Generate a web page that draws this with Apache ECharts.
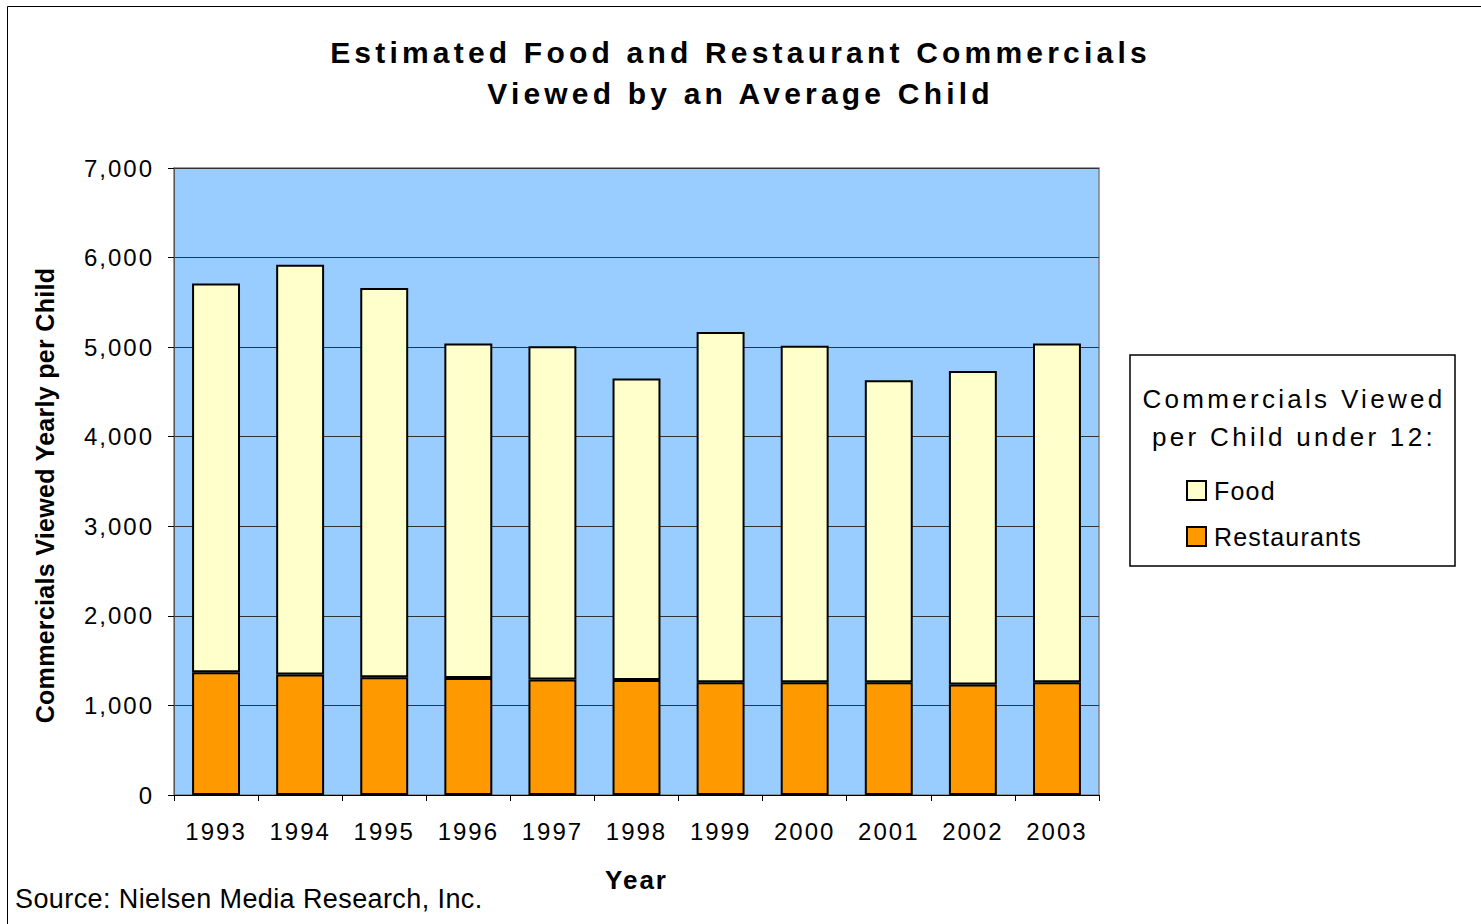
<!DOCTYPE html>
<html>
<head>
<meta charset="utf-8">
<script src="https://cdn.jsdelivr.net/npm/echarts@6/dist/echarts.min.js"></script>
<style>
  html, body { margin: 0; padding: 0; background: #fff; }
  #main { width: 1481px; height: 924px; }
  /* the original chart has loose letter spacing, svg text can take it */
  #main text[style*="ftitle"], #main text[font-family*="ftitle"] { letter-spacing: 4.2px; }
  #main text[style*="ftick"], #main text[font-family*="ftick"] { letter-spacing: 2px; }
  #main text[style*="fyname"], #main text[font-family*="fyname"] { letter-spacing: 0.3px; }
  #main text[style*="fxname"], #main text[font-family*="fxname"] { letter-spacing: 2px; }
  #main text[style*="fhead"], #main text[font-family*="fhead"] { letter-spacing: 3.3px; }
  #main text[style*="fitem"], #main text[font-family*="fitem"] { letter-spacing: 1.2px; }
  #main text[style*="fsrc"], #main text[font-family*="fsrc"] { letter-spacing: 0.4px; }
</style>
</head>
<body>
<div id="main"></div>
<script>
  // values
  let years = ['1993', '1994', '1995', '1996', '1997', '1998', '1999', '2000', '2001', '2002', '2003'];
  let restaurants = [1370, 1345, 1315, 1305, 1290, 1285, 1260, 1260, 1260, 1235, 1260];
  let food = [4340, 4575, 4345, 3735, 3720, 3365, 3910, 3755, 3370, 3500, 3780];
  let yTicks = [0, 1000, 2000, 3000, 4000, 5000, 6000, 7000];

  // second family name is only a tag for the css above
  function ff(tag) {
    return 'Liberation Sans, ' + tag + ', Arial, sans-serif';
  }

  let myChart = echarts.init(document.getElementById('main'), null, { renderer: 'svg' });

  let option = {
    animation: false,
    backgroundColor: '#fff',
    title: {
      text: 'Estimated Food and Restaurant Commercials\nViewed by an Average Child',
      left: 'center',
      top: 27,
      textStyle: {
        fontFamily: ff('ftitle'),
        fontSize: 30,
        fontWeight: 'bold',
        color: '#000',
        lineHeight: 41
      }
    },
    grid: {
      left: 174,
      right: 382,
      top: 168,
      bottom: 129,
      show: true,
      backgroundColor: '#99ccff',
      borderColor: '#808080',
      borderWidth: 1.5
    },
    legend: {
      data: ['Food', 'Restaurants'],
      orient: 'vertical',
      left: 1186,
      top: 478,
      padding: 0,
      itemWidth: 19,
      itemHeight: 19,
      itemGap: 21,
      icon: 'rect',
      textStyle: { fontFamily: ff('fitem'), fontSize: 25, color: '#000', padding: [0, 0, 0, 3] }
    },
    xAxis: {
      type: 'category',
      data: years,
      name: 'Year',
      nameLocation: 'middle',
      nameGap: 72,
      nameTextStyle: { fontFamily: ff('fxname'), fontSize: 26, fontWeight: 'bold', color: '#000' },
      axisLine: { lineStyle: { color: '#000', width: 1 } },
      axisTick: { show: true, length: 6, lineStyle: { color: '#000' } },
      axisLabel: { fontFamily: ff('ftick'), fontSize: 24, color: '#000', margin: 24 }
    },
    yAxis: {
      type: 'value',
      min: yTicks[0],
      max: yTicks[yTicks.length - 1],
      interval: 1000,
      name: 'Commercials Viewed Yearly per Child',
      nameLocation: 'middle',
      nameGap: 117,
      nameTextStyle: {
        fontFamily: ff('fyname'),
        fontSize: 25,
        fontWeight: 'bold',
        color: '#000',
        padding: [0, 28, 0, 0]
      },
      axisLine: { show: true, lineStyle: { color: '#555', width: 1 } },
      axisTick: { show: true, length: 6, lineStyle: { color: '#000' } },
      axisLabel: {
        fontFamily: ff('ftick'),
        fontSize: 24,
        color: '#000',
        margin: 20,
        formatter: v => v.toLocaleString('en-US')
      },
      splitLine: { lineStyle: { color: '#333', width: 1 } }
    },
    series: [
      {
        name: 'Restaurants',
        type: 'bar',
        stack: 'total',
        data: restaurants,
        barCategoryGap: '43%',
        itemStyle: { color: '#ff9900', borderColor: '#000', borderWidth: 2 }
      },
      {
        name: 'Food',
        type: 'bar',
        stack: 'total',
        data: food,
        barCategoryGap: '43%',
        itemStyle: { color: '#ffffcc', borderColor: '#000', borderWidth: 2 }
      }
    ],
    graphic: [
      {
        type: 'rect',
        shape: { x: 7.5, y: 6.5, width: 1490, height: 940 },
        style: { fill: null, stroke: '#000', lineWidth: 1 },
        silent: true
      },
      {
        type: 'rect',
        shape: { x: 1130, y: 355, width: 325, height: 211 },
        style: { fill: '#fff', stroke: '#000', lineWidth: 1.5 },
        z: -1,
        silent: true
      },
      {
        type: 'text',
        x: 1294,
        y: 418,
        style: {
          text: 'Commercials Viewed\nper Child under 12:',
          fontFamily: ff('fhead'),
          fontSize: 26,
          lineHeight: 38,
          fill: '#000',
          align: 'center',
          verticalAlign: 'middle'
        }
      },
      {
        type: 'text',
        x: 15,
        y: 899,
        style: {
          text: 'Source: Nielsen Media Research, Inc.',
          fontFamily: ff('fsrc'),
          fontSize: 27,
          fill: '#000',
          verticalAlign: 'middle'
        }
      }
    ]
  };
  myChart.setOption(option);
</script>
</body>
</html>
